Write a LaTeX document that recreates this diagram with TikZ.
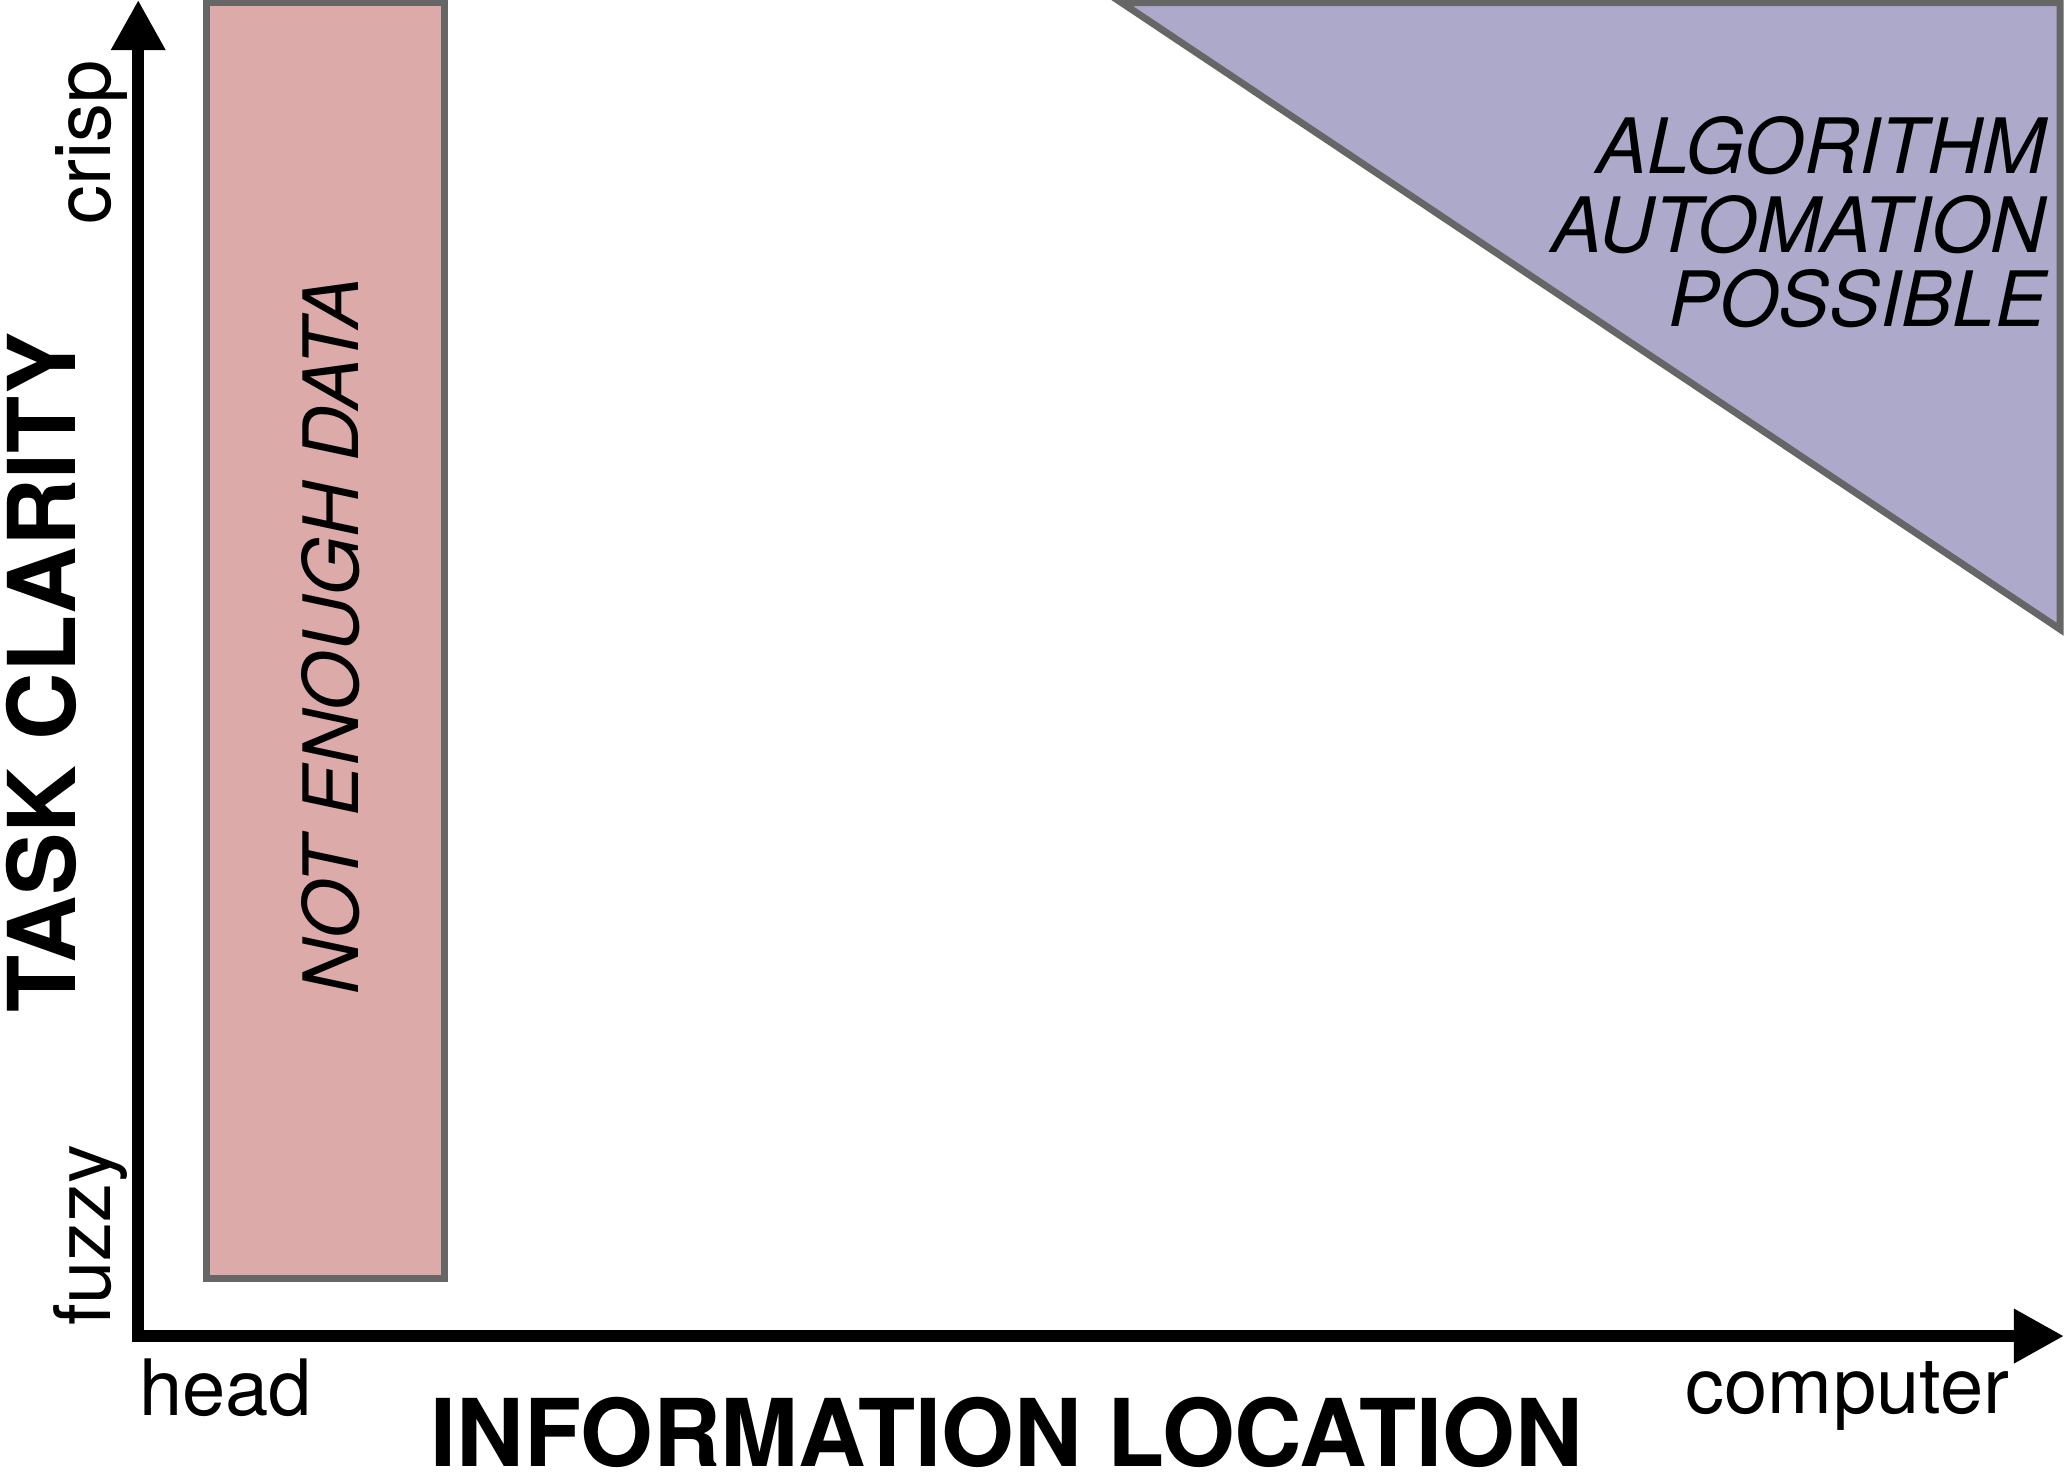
\documentclass[tikz,border=0pt]{standalone}
\usepackage{fontspec}
\setmainfont{TeX Gyre Heros}
\usetikzlibrary{arrows.meta}
\definecolor{zonered}{HTML}{DDAAAA}
\definecolor{zonepurple}{HTML}{ADA9CA}
\definecolor{zoneedge}{HTML}{666666}
\tikzset{
  mapaxis/.style={line width=0.09cm, line join=miter, <->,
                  >={Triangle[length=0.38cm, width=0.39cm]}},
  mapzone/.style={draw=zoneedge, line width=1.5pt, line join=miter},
  mapend/.style={inner sep=0pt, font=\fontsize{16.8}{20}\selectfont},
  maptitle/.style={inner sep=0pt, text depth=0pt, font=\fontsize{20.2}{24}\selectfont\bfseries},
  mapnote/.style={inner sep=0pt, font=\fontsize{16.5}{20}\selectfont\itshape},
}
\begin{document}
\begin{tikzpicture}[x=0.01cm, y=-0.01cm]
  \useasboundingbox (0,0) rectangle (1568,1124);

  % Regiões
  \draw[mapzone, fill=zonered] (157,2) rectangle (338,971);
  \draw[mapzone, fill=zonepurple] (852,2) -- (1565,2) -- (1565,478) -- cycle;

  % Eixos
  \coordinate (ytip) at (105,0);
  \coordinate (origin) at (105,1015);
  \coordinate (xtip) at (1568,1015);
  \draw[mapaxis] (ytip) -- (origin) -- (xtip);

  % Rótulos dos eixos
  \node[mapend, rotate=90, anchor=base west] (crisp) at (84,171) {crisp};
  \node[mapend, rotate=90, anchor=base west] (fuzzy) at (84,1008) {fuzzy};
  \node[maptitle, rotate=90, anchor=base west] (yname) at (57,770) {TASK CLARITY};
  \node[mapend, anchor=base west] (head) at (105,1075) {head};
  \node[mapend, anchor=base east] (computer) at (1527,1074) {computer};
  \node[maptitle, anchor=base] (xname) at (765,1114) {INFORMATION LOCATION};

  % Textos das regiões
  \node[mapnote, rotate=90, anchor=base] (nodata) at (272,483) {NOT ENOUGH DATA};
  \node[mapnote, anchor=base east] (algo) at (1555,132) {ALGORITHM};
  \node[mapnote, anchor=base east] (auto) at (1555,192) {AUTOMATION};
  \node[mapnote, anchor=base east] (poss) at (1555,248) {POSSIBLE};
\end{tikzpicture}
\end{document}
